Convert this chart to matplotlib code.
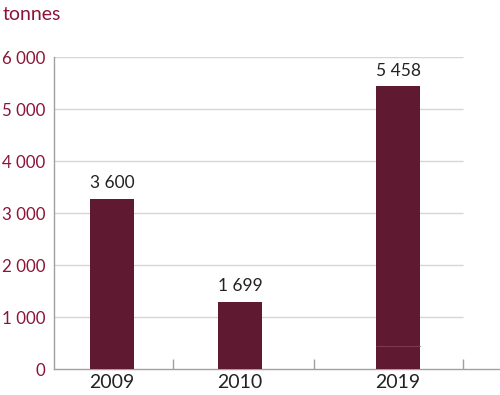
import matplotlib.pyplot as plt

# Data
years = ["2009", "2010", "2019"]
x_pos = [0, 1, 2.234]
bar_base = [0, 0, 450]
bar_top = [3280, 1290, 4985]
bar_lower = [0, 0, 450]
value_labels = ["3 600", "1 699", "5 458"]
y_ticks = [0, 1000, 2000, 3000, 4000, 5000, 6000]
y_tick_labels = ["0", "1 000", "2 000", "3 000", "4 000", "5 000", "6 000"]
boundaries = [0.477, 1.578, 2.742]

maroon = "#5f1a31"
label_red = "#8a1538"

plt.rcParams["font.family"] = ["Lato", "DejaVu Sans"]

fig = plt.figure(figsize=(5, 3.95), dpi=100)
ax = fig.add_axes([0.108, 0.0646, 0.892, 0.791])

# bars (2019 is drawn in two segments)
ax.bar(x_pos, bar_lower, width=0.344, color=maroon, zorder=3)
ax.bar(x_pos, bar_top, width=0.344, bottom=bar_base, color=maroon,
       edgecolor=maroon, linewidth=0, zorder=3)
ax.hlines(bar_lower[2], x_pos[2] - 0.172, x_pos[2] + 0.172,
          color="#7a3a50", linewidth=0.8, zorder=4)

for x, b, h, lab in zip(x_pos, bar_base, bar_top, value_labels):
    ax.text(x, b + h + 150, lab, ha="center", va="bottom",
            fontsize=12.5, color="#222222")

# grid lines stop at the last boundary
ax.set_xlim(-0.453, 3.03)
ax.set_ylim(0, 6000)
for y in y_ticks[1:]:
    ax.hlines(y, -0.453, boundaries[-1], color="#d6d6d6", linewidth=1, zorder=1)

ax.set_yticks(y_ticks)
ax.set_yticklabels(y_tick_labels, fontsize=12.2, color=label_red)
ax.tick_params(axis="y", length=0, pad=6)

ax.set_xticks(x_pos)
ax.set_xticklabels(years, fontsize=14, color="#222222")
ax.tick_params(axis="x", which="major", length=0, pad=3)
ax.set_xticks(boundaries, minor=True)
ax.tick_params(axis="x", which="minor", direction="in", length=7,
               color="#a0a0a0", width=1)

for side in ["top", "right"]:
    ax.spines[side].set_visible(False)
for side in ["left", "bottom"]:
    ax.spines[side].set_color("#a0a0a0")
    ax.spines[side].set_linewidth(1)

fig.text(0.006, 1 - 15 / 395, "tonnes", fontsize=14, color=label_red,
         ha="left", va="center")

fig.savefig("out.png", dpi=100)
